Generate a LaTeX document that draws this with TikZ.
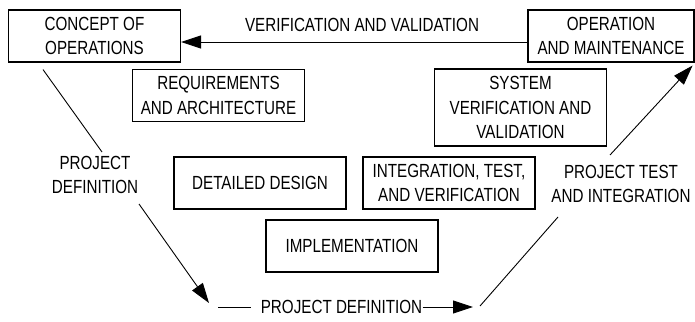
\documentclass[tikz,border=0pt]{standalone}
\usepackage{fontspec}
\setmainfont{Liberation Sans}[FakeStretch=0.8]
\usepackage{tikz}
\usetikzlibrary{arrows.meta,positioning,calc}

\begin{document}
\begin{tikzpicture}[x=1pt,y=-1pt,>={Triangle[length=20pt,width=13pt]},line width=0.9pt,
  every node/.style={font=\fontsize{19}{24.5}\selectfont},
  stage/.style={draw, line width=1.1pt, align=center, minimum width=172pt, minimum height=52pt, inner sep=2pt}]
  \useasboundingbox (0,0) rectangle (695,321);

  % stages
  \node[stage] (concept) at (94.5,36) {CONCEPT OF\\OPERATIONS};
  \node[stage] (req) at (218.5,95.5) {REQUIREMENTS\\AND ARCHITECTURE};
  \node[stage] (detail) at (260,183) {DETAILED DESIGN};
  \node[stage] (impl) at (352,246) {IMPLEMENTATION};
  \node[stage] (integ) at (449,183) {INTEGRATION, TEST,\\AND VERIFICATION};
  \node[stage, minimum height=77pt] (sysvv) at (520.5,107.5) {SYSTEM\\VERIFICATION AND\\VALIDATION};
  \node[stage, minimum width=166pt] (oper) at (611,36) {OPERATION\\AND MAINTENANCE};

  % labels
  \node (vv) at (362,25) {VERIFICATION AND VALIDATION};
  \node[align=center] (pdl) at (95,175) {PROJECT\\DEFINITION};
  \node[inner sep=0pt] (pdb) at (341.5,307) {PROJECT DEFINITION};
  \node[align=center] (pti) at (621,184) {PROJECT TEST\\AND INTEGRATION};

  % bottom of the V
  \coordinate (vl) at (209,303);
  \coordinate (vr) at (473,307);

  % wires
  \draw[->] ([yshift=-6pt]oper.west) -- ([yshift=-6pt]concept.east);
  \draw ($(concept.south)+(-51.5,7)$) -- ($(pdl)+(7,-23)$);
  \draw[->] ($(pdl)+(44,29)$) -- (vl);
  \draw ([xshift=-42pt]pdb.west) -- ([xshift=-9pt]pdb.west);
  \draw[->] (pdb.east) -- (vr);
  \draw ($(vr)+(7,-1)$) -- ($(pti)+(-63,33)$);
  \draw[->] ($(pti)+(-11,-29)$) -- ($(oper.south east)+(-2,3)$);
\end{tikzpicture}
\end{document}
